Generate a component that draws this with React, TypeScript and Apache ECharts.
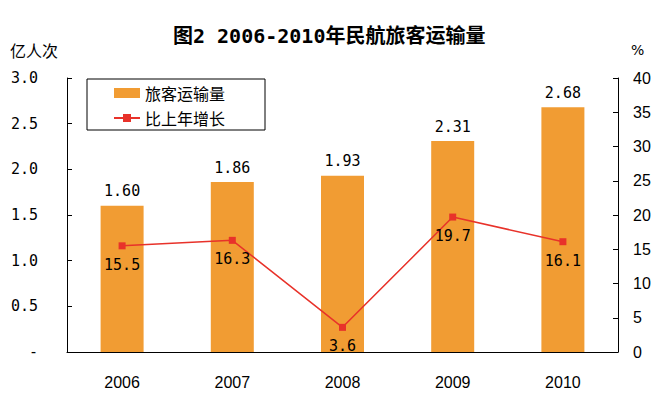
import React, { useEffect, useRef } from "react";
import * as echarts from "echarts";

const years = ["2006", "2007", "2008", "2009", "2010"];
const passengers = [1.6, 1.86, 1.93, 2.31, 2.68];
const growth = [15.5, 16.3, 3.6, 19.7, 16.1];

export default function App() {
  const ref = useRef<HTMLDivElement>(null);
  useEffect(() => {
    const chart = echarts.init(ref.current!, null, { renderer: "svg" });
    const monoFont = { fontFamily: "DejaVu Sans Mono", fontSize: 15, color: "#000" };
    chart.setOption({
      animation: false,
      backgroundColor: "#fff",
      title: {
        text: "图2 2006-2010年民航旅客运输量",
        left: 168,
        top: 21,
        textStyle: {
          fontFamily: "DejaVu Sans Mono, Noto Sans CJK SC",
          fontSize: 20,
          fontWeight: "bold",
          color: "#000",
        },
      },
      graphic: [
        { type: "text", left: 10, top: 42, style: { text: "亿人次", font: "16px 'Noto Sans CJK SC'", fill: "#000" } },
        { type: "text", left: 631, top: 43, style: { text: "%", font: "14px 'DejaVu Sans'", fill: "#000" } },
      ],
      legend: {
        orient: "vertical",
        left: 87,
        top: 79,
        borderColor: "#000",
        borderWidth: 1,
        padding: [6, 40, 4, 26],
        itemGap: 9,
        itemWidth: 26,
        itemHeight: 10,
        textStyle: { fontFamily: "Noto Sans CJK SC", fontSize: 16, color: "#000" },
        data: [{ name: "旅客运输量", icon: "rect" }, { name: "比上年增长" }],
      },
      grid: { left: 67, right: 46, top: 78, bottom: 47 },
      xAxis: {
        type: "category",
        data: years,
        axisLine: { lineStyle: { color: "#000", width: 1 } },
        axisTick: { inside: true, length: 5, lineStyle: { color: "#000" } },
        axisLabel: { fontFamily: "Liberation Sans", fontSize: 16, color: "#000", margin: 22 },
      },
      yAxis: [
        {
          type: "value",
          min: 0,
          max: 3,
          interval: 0.5,
          splitLine: { show: false },
          axisLine: { show: true, lineStyle: { color: "#000" } },
          axisTick: { show: true, inside: true, length: 5, lineStyle: { color: "#000" } },
          axisLabel: {
            ...monoFont,
            margin: 29,
            formatter: (v: number) => (v === 0 ? "-" : v.toFixed(1)),
          },
        },
        {
          type: "value",
          min: 0,
          max: 40,
          interval: 5,
          splitLine: { show: false },
          axisLine: { show: true, lineStyle: { color: "#000" } },
          axisTick: { show: true, inside: true, length: 5, lineStyle: { color: "#000" } },
          axisLabel: { fontFamily: "Liberation Sans", fontSize: 16, color: "#000", margin: 15 },
        },
      ],
      series: [
        {
          name: "旅客运输量",
          type: "bar",
          data: passengers,
          barWidth: 43,
          itemStyle: { color: "#F19C33" },
          label: {
            show: true,
            position: "top",
            distance: 7,
            formatter: (p: any) => p.value.toFixed(2),
            ...monoFont,
          },
        },
        {
          name: "比上年增长",
          type: "line",
          yAxisIndex: 1,
          data: growth,
          symbol: "rect",
          symbolSize: 7,
          lineStyle: { color: "#E8322A", width: 1.5 },
          itemStyle: { color: "#E8322A" },
          label: {
            show: true,
            position: "bottom",
            distance: 8,
            formatter: (p: any) => p.value.toFixed(1),
            ...monoFont,
          },
        },
      ],
    });
    return () => chart.dispose();
  }, []);
  return <div ref={ref} style={{ width: 664, height: 399, position: "absolute", left: 0, top: 0 }} />;
}
